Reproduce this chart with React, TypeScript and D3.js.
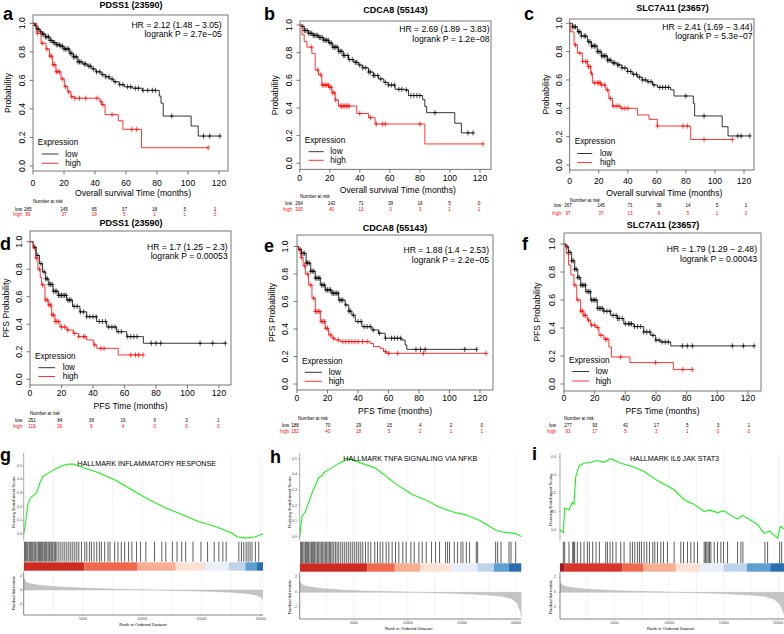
import React from "react";
import * as d3 from "d3";

type Pt = [number, number];

// ---------------- Kaplan-Meier data ----------------
const kmTimeTicks = [0, 20, 40, 60, 80, 100, 120];
const kmProbTicks = [0, 0.2, 0.4, 0.6, 0.8, 1.0];
const groupNames = ["low", "high"];

const aTitle = "PDSS1 (23590)";
const aHR = "HR = 2.12 (1.48 − 3.05)";
const aP = "logrank P = 2.7e−05";
const aLow: Pt[] = [[0,1],[1,0.985],[2.5,0.96],[4.5,0.94],[6,0.925],[8,0.905],[11,0.88],[13,0.865],[15,0.85],[17.4,0.84],[20,0.82],[23.7,0.79],[26,0.765],[29,0.73],[32,0.715],[35,0.7],[38,0.68],[40.6,0.66],[44,0.64],[47,0.625],[49.2,0.61],[52,0.59],[55.6,0.57],[59,0.555],[64.2,0.545],[70.6,0.53],[81.5,0.49],[82.6,0.44],[84,0.35],[102,0.28],[106.6,0.21],[120.6,0.21]];
const aLowCens = [1.5,2.5,3.5,5,6,7,8,9,10,11,12,13,14,15,16,17,18,19,20,21,22,23,24,25,26,27,28,29,30,31,33,34,36,37,39,41,43,45,47,49,51,53,56,58,61,63,66,68,71,74,77,79,89.5,110,114,120.6];
const aHigh: Pt[] = [[0,1],[2.4,0.93],[5.2,0.86],[8.4,0.82],[10.6,0.77],[12.7,0.71],[14.8,0.66],[18,0.61],[20.2,0.556],[22.4,0.52],[24.5,0.486],[26.6,0.475],[43.2,0.45],[44.3,0.43],[46.5,0.36],[55,0.317],[58,0.257],[70,0.128],[113,0.128]];
const aHighCens = [3,6,9,11,12,13,14,15,16,17,19,21,23,25,27,30,34,41.3,44,45,51,63.7,66.9,113];
const aRiskLow = [265, 145, 65, 37, 18, 5, 1];
const aRiskHigh = [99, 37, 19, 5, 1, 1, 0];

const bTitle = "CDCA8 (55143)";
const bHR = "HR = 2.69 (1.89 − 3.83)";
const bP = "logrank P = 1.2e−08";
const bLow: Pt[] = [[0,1],[1,0.99],[3,0.96],[6,0.94],[9,0.925],[12.6,0.91],[16,0.89],[19.2,0.87],[22,0.84],[25.8,0.81],[29,0.78],[32.5,0.75],[36,0.73],[39.1,0.71],[42,0.69],[45.8,0.66],[49,0.635],[52.4,0.61],[56,0.585],[59,0.566],[63.5,0.535],[70,0.53],[72.4,0.49],[81.8,0.46],[83.3,0.41],[84.5,0.366],[103.2,0.29],[107.6,0.22],[115.4,0.22]];
const bLowCens = [2,3,4,5,6,7,8,9,10,11,12,13,14,15,16,17,18,19,20,21,22,23,24,25,26,27,28,29,30,32,33,35,37,38,40,42,44,46,47,49,50,52,54,57,59,61,63,66,68,71,74,76,78,80,90,112,115.4];
const bHigh: Pt[] = [[0,1],[1.5,0.93],[3,0.88],[4.8,0.84],[8.1,0.795],[10.3,0.675],[12.5,0.64],[14.7,0.566],[19.2,0.55],[21.4,0.51],[23.6,0.458],[25.8,0.414],[38,0.36],[45.8,0.33],[50.2,0.284],[83.3,0.14],[122,0.14]];
const bHighCens = [8,12,14,15,16,17,18,19,20,21,22,23,24,27,28,29,30,31,32,33,40,47,51,55,57,80,122];
const bRiskLow = [264, 142, 71, 39, 16, 5, 0];
const bRiskHigh = [100, 40, 13, 3, 3, 1, 1];

const cTitle = "SLC7A11 (23657)";
const cHR = "HR = 2.41 (1.69 − 3.44)";
const cP = "logrank P = 5.3e−07";
const cLow: Pt[] = [[0,1],[2,0.975],[5.3,0.94],[8,0.91],[12.2,0.87],[15,0.84],[19,0.8],[22,0.77],[26,0.74],[29,0.72],[32.8,0.706],[36,0.685],[39.7,0.66],[43,0.64],[46.6,0.62],[50,0.6],[53.5,0.588],[57,0.565],[60.3,0.548],[69.5,0.53],[71.8,0.487],[85.1,0.435],[86,0.346],[105,0.27],[109,0.205],[124,0.205]];
const cLowCens = [2,3,4,6,7,8,10,11,13,14,15,16,17,18,19,20,21,22,23,24,25,26,27,28,30,31,33,34,36,38,40,42,44,46,48,50,52,54,56,58,62,64,66,68,80,92.5,115.7,118,124];
const cHigh: Pt[] = [[0,1],[0.7,0.94],[3,0.847],[5.3,0.79],[8.7,0.73],[12.2,0.694],[14.5,0.647],[15.6,0.58],[21.3,0.565],[24.8,0.53],[27,0.47],[29.4,0.416],[35.1,0.4],[46.6,0.353],[54.6,0.322],[60.3,0.275],[83.3,0.18],[112,0.18]];
const cHighCens = [4,7,9,11,12,13,14,15,17,19,20,21,22,24,26,28,30,32,34,36,38,40,60.3,78,81,92.5,112];
const cRiskLow = [267, 145, 71, 36, 14, 5, 1];
const cRiskHigh = [97, 37, 13, 6, 5, 1, 0];

const dTitle = "PDSS1 (23590)";
const dHR = "HR = 1.7 (1.25 − 2.3)";
const dP = "logrank P = 0.00053";
const dLow: Pt[] = [[0,1],[2,0.96],[4,0.9],[6,0.84],[8,0.78],[10,0.73],[12,0.69],[14.6,0.64],[18,0.61],[23.3,0.576],[27,0.53],[31.7,0.49],[36,0.455],[42.3,0.42],[48.7,0.38],[55,0.346],[61.4,0.31],[69.8,0.31],[72,0.262],[124,0.262]];
const dLowCens = [3,5,7,9,10,11,12,13,14,15,16,17,18,19,20,21,22,23,24,25,26,28,30,32,34,36,38,40,42,44,46,48,50,52,54,56,58,62,64,66,68,77,80,83,108,116,124];
const dHigh: Pt[] = [[0,1],[2,0.95],[3.5,0.88],[5,0.8],[6.5,0.74],[7.4,0.686],[9.5,0.576],[11.6,0.54],[13.8,0.467],[15.9,0.42],[19,0.38],[23.3,0.358],[27.5,0.334],[30.7,0.31],[36,0.286],[40.2,0.25],[42.4,0.225],[56,0.177],[71.8,0.177]];
const dHighCens = [4,6,8,10,11,12,13,14,15,16,17,18,20,22,24,28,31,34,35,41,45,47,64,67,69,71.8];
const dRiskLow = [251, 84, 38, 16, 6, 3, 1];
const dRiskHigh = [119, 26, 9, 4, 0, 0, 0];

const eTitle = "CDCA8 (55143)";
const eHR = "HR = 1.88 (1.4 − 2.53)";
const eP = "logrank P = 2.2e−05";
const eLow: Pt[] = [[0,1],[1,0.98],[3,0.95],[6,0.88],[9,0.82],[12,0.77],[15.3,0.72],[18.5,0.684],[22.9,0.66],[27.3,0.61],[31.6,0.575],[34,0.53],[36,0.5],[38.2,0.454],[42.5,0.417],[49.1,0.393],[53.5,0.369],[57.8,0.333],[68.7,0.32],[70.9,0.284],[72,0.252],[117.8,0.252]];
const eLowCens = [2,3,4,5,6,7,8,9,10,11,12,13,14,15,16,17,18,19,20,21,22,23,24,25,26,27,28,29,30,32,34,35,37,40,42,44,46,48,50,54,58,62,64,66,68,78,81,84,110,117.8];
const eHigh: Pt[] = [[0,1],[1,0.97],[2.5,0.92],[4,0.86],[5.5,0.8],[7.6,0.72],[9.8,0.624],[12,0.527],[15.3,0.454],[18.5,0.405],[20.7,0.357],[22.9,0.333],[25,0.32],[28.4,0.308],[48,0.295],[50.2,0.272],[54.5,0.26],[56.7,0.235],[58.9,0.223],[124,0.223]];
const eHighCens = [3,5,7,9,11,12,13,14,15,16,17,18,19,20,22,24,27,30,32,34,36,38,40,43,46,58,60,66,82.9,124];
const eRiskLow = [188, 70, 29, 15, 4, 2, 0];
const eRiskHigh = [182, 40, 18, 5, 2, 1, 1];

const fTitle = "SLC7A11 (23657)";
const fHR = "HR = 1.79 (1.29 − 2.48)";
const fP = "logrank P = 0.00043";
const fLow: Pt[] = [[0,1],[1,0.98],[3,0.94],[5,0.88],[7,0.82],[9,0.76],[10.9,0.706],[14.1,0.66],[17.4,0.6],[21.7,0.54],[26,0.52],[30.4,0.49],[34.8,0.468],[39,0.43],[45.6,0.41],[52,0.372],[56.5,0.348],[59.8,0.313],[63,0.3],[69.6,0.272],[124,0.272]];
const fLowCens = [2,3,4,5,6,7,8,9,10,11,12,13,14,15,16,17,18,19,20,21,22,23,24,25,26,28,30,32,34,35,36,38,40,42,43,44,46,48,50,52,54,56,58,60,62,64,66,68,77.2,80.4,83.7,109.8,117,124];
const fHigh: Pt[] = [[0,1],[1.5,0.93],[3,0.85],[4.5,0.78],[6.5,0.706],[8.3,0.6],[10.9,0.52],[13,0.49],[15.2,0.456],[17.4,0.42],[20.7,0.403],[22.8,0.348],[26,0.32],[29.3,0.265],[30.9,0.193],[43,0.153],[71.3,0.103],[83.7,0.103]];
const fHighCens = [7,9,11,12,13,14,16,18,20,22,24,27,28,37,59.8,77.5,83.7];
const fRiskLow = [277, 93, 42, 17, 5, 3, 1];
const fRiskHigh = [93, 17, 5, 3, 1, 0, 0];

// ---------------- GSEA data ----------------
const rankTicks = [5000, 10000, 15000, 20000];
const metricTicks = [2, 0, -2];

const gTitle = "HALLMARK INFLAMMATORY RESPONSE";
const gES: Pt[] = [[0,0],[100,0.05],[250,0.15],[360,0.22],[500,0.25],[650,0.27],[1070,0.3],[1200,0.33],[1350,0.37],[1620,0.42],[2180,0.45],[2800,0.48],[3300,0.5],[3800,0.51],[4200,0.51],[5000,0.485],[6390,0.445],[7790,0.39],[9190,0.32],[10590,0.25],[11990,0.19],[13390,0.14],[14790,0.09],[16190,0.055],[17590,0.005],[18010,-0.02],[18720,-0.03],[19560,-0.02],[20000,-0.005],[20300,0.005]];
const gHits = [56,140,224,336,448,532,616,700,784,896,1008,1120,1233,1317,1401,1485,1597,1709,1793,1877,1961,2073,2185,2297,2381,2465,2577,2689,2801,2969,3137,3305,3473,3641,3809,3977,4145,4313,4481,4649,4874,5154,5322,5546,5714,5938,6162,6386,6554,6834,7115,7283,7675,7955,8235,8516,8852,9132,9524,9860,10308,11037,11653,11989,12549,12941,13333,13669,14285,14958,15518,16078,16470,16807,17087,18151,18375,18571,18767,18935,19103,19271,19551,19831];
const gBands = [0, 5126, 9607, 12828, 15350, 17310, 18710, 19690, 20500];
const gMetric: Pt[] = [[0,1.7],[150,1.2],[400,0.95],[800,0.8],[1500,0.65],[2500,0.5],[4000,0.35],[6000,0.22],[8000,0.12],[10000,0.04],[12000,-0.04],[14000,-0.12],[16000,-0.22],[17500,-0.32],[18800,-0.48],[19600,-0.7],[20000,-1.0],[20300,-1.6],[20500,-2.6]];

const hTitle = "HALLMARK TNFA SIGNALING VIA NFKB";
const hES: Pt[] = [[0,0],[213,0.13],[519,0.16],[833,0.22],[1139,0.28],[1445,0.33],[1759,0.38],[2065,0.39],[2222,0.41],[2685,0.43],[3611,0.47],[4537,0.5],[5769,0.47],[7000,0.44],[8853,0.34],[10399,0.27],[11630,0.236],[12871,0.19],[14103,0.16],[15335,0.14],[16575,0.107],[18113,0.043],[18733,0.03],[19965,0.02],[20520,0]];
const hHits = [90,183,275,399,522,615,738,831,954,1078,1170,1294,1386,1510,1633,1757,1880,2004,2127,2251,2374,2498,2621,2745,2868,2992,3146,3300,3455,3609,3794,3980,4165,4350,4535,4720,4906,5091,5276,5461,5647,5832,6079,6326,6572,6943,7190,7437,7684,7993,8240,8548,8857,9166,9536,9845,10277,10586,11018,11327,11697,12191,12561,12932,13488,13673,13858,14290,14599,14908,15093,15402,15710,16328,16451,18118,18303,18612,19353,19538,19970];
const hBands = [0, 6233, 8795, 11172, 13951, 16420, 17964, 19353, 20520];
const hMetric: Pt[] = [[0,1.5],[150,1.1],[500,0.85],[1000,0.7],[2000,0.5],[4000,0.3],[6000,0.18],[8000,0.1],[10000,0.03],[12000,-0.05],[14000,-0.13],[16000,-0.25],[17500,-0.35],[18800,-0.55],[19600,-0.85],[20100,-1.4],[20400,-2.5],[20520,-3.3]];

const iTitle = "HALLMARK IL6 JAK STAT3";
const iES: Pt[] = [[0,0],[303,-0.015],[431,0.12],[826,0.11],[1128,0.15],[1284,0.14],[1440,0.29],[1743,0.35],[2202,0.365],[2816,0.37],[3422,0.38],[4037,0.37],[4651,0.39],[5569,0.365],[6486,0.35],[7706,0.32],[8926,0.27],[10459,0.22],[11376,0.165],[12293,0.14],[13211,0.1],[13670,0.11],[14431,0.095],[15045,0.105],[15661,0.08],[16266,0.06],[16725,0.08],[18101,0.03],[18716,-0.02],[19174,-0.005],[19936,-0.045],[20183,0.02],[20550,0.005]];
const iHits = [305,428,825,1162,1253,1345,1590,1896,2201,2507,2691,2996,3302,3608,4189,4342,4587,4831,5137,5565,5871,6421,6636,6850,7094,7278,7461,7706,7950,8195,8501,8684,8929,9235,9479,9846,10458,11069,11314,11681,11987,12293,12599,13210,13333,13455,13577,13699,13822,14127,14433,14739,14984,15351,16268,16574,16757,18775,19020,20121,20305];
const iBands = [0, 428, 5718, 7644, 10610, 12843, 14984, 17124, 19265, 20600];
const iMetric: Pt[] = [[0,1.3],[150,1.0],[500,0.8],[1000,0.65],[2000,0.48],[4000,0.3],[6000,0.18],[8000,0.1],[10000,0.03],[12000,-0.05],[14000,-0.13],[16000,-0.25],[17500,-0.36],[18800,-0.56],[19600,-0.9],[20100,-1.5],[20400,-2.4],[20600,-3.3]];

const bandColors8 = ["#cd2a22", "#ef6a4c", "#f7ae92", "#fbe2d5", "#e9eef8", "#bcd5ea", "#5f9ed1", "#2a6db0"];
const bandColors9 = ["#a0141c", "#d8342a", "#ef6a4c", "#f7ae92", "#fbe2d5", "#e9eef8", "#bcd5ea", "#5f9ed1", "#2a6db0"];

// ---------------- layout ----------------
const FONT = "'Liberation Sans', Arial, Helvetica, sans-serif";

const kmPanels = [
  { key: "a", title: aTitle, hr: aHR, p: aP, low: aLow, lowC: aLowCens, high: aHigh, highC: aHighCens, rl: aRiskLow, rh: aRiskHigh, yLab: "Probability", xLab: "Overall survival Time (months)",
    L: { letter: [3, 20], titleXY: [131, 8], box: [33, 15, 228, 171], x0: 33, x120: 219, y0: 166, y1: 23.3, hrR: 221.7, hrY: [25, 34], yTickX: 22, yTitleX: 8.3, xTickY: 182.7, xTitleY: 193.3, xTitleX: 133,
      leg: { x: 37.7, y: [142.7, 154, 163.3], l1: 41.7, l2: 58.3, tx: 65.3 }, risk: { tx: 33, ty: 201.7, x0: 33.8, step: 30.2, first: -6, yl: 209, yh: 214.3, lr: 22 } } },
  { key: "b", title: bTitle, hr: bHR, p: bP, low: bLow, lowC: bLowCens, high: bHigh, highC: bHighCens, rl: bRiskLow, rh: bRiskHigh, yLab: "Probability", xLab: "Overall survival Time (months)",
    L: { letter: [264, 20], titleXY: [395.5, 13], box: [300, 21, 491, 169.3], x0: 299.7, x120: 480, y0: 163.3, y1: 25, hrR: 489.5, hrY: [29.3, 39], yTickX: 288.7, yTitleX: 275.3, xTickY: 177.5, xTitleY: 190, xTitleX: 397.8,
      leg: { x: 304.7, y: [140.7, 151.7, 160.3], l1: 308.7, l2: 323.7, tx: 330.3 }, risk: { tx: 300, ty: 196.7, x0: 302, step: 29.5, first: -3, yl: 203.3, yh: 209.3, lr: 292 } } },
  { key: "c", title: cTitle, hr: cHR, p: cP, low: cLow, lowC: cLowCens, high: cHigh, highC: cHighCens, rl: cRiskLow, rh: cRiskHigh, yLab: "Probability", xLab: "Overall survival Time (months)",
    L: { letter: [524, 20], titleXY: [672.5, 10.5], box: [569.7, 19, 754, 170], x0: 569.7, x120: 744, y0: 165, y1: 23.3, hrR: 752.5, hrY: [26.7, 36], yTickX: 559, yTitleX: 545.7, xTickY: 180.7, xTitleY: 192.7, xTitleX: 664.3,
      leg: { x: 574.7, y: [141.7, 153.5, 162.5], l1: 577.3, l2: 592.3, tx: 600 }, risk: { tx: 570, ty: 200, x0: 572, step: 29, first: -4, yl: 205.7, yh: 213.3, lr: 561 } } },
  { key: "d", title: dTitle, hr: dHR, p: dP, low: dLow, lowC: dLowCens, high: dHigh, highC: dHighCens, rl: dRiskLow, rh: dRiskHigh, yLab: "PFS Probability", xLab: "PFS Time (months)",
    L: { letter: [0, 250], titleXY: [131, 226], box: [30, 231, 231, 385], x0: 30, x120: 219, y0: 379.3, y1: 241.7, hrR: 227.7, hrY: [246.7, 255.7], yTickX: 19.3, yTitleX: 6, xTickY: 393.3, xTitleY: 406, xTitleX: 130.5,
      leg: { x: 35, y: [356.7, 367.7, 376.5], l1: 38.3, l2: 55, tx: 62.7 }, risk: { tx: 30, ty: 413.3, x0: 28, step: 31.7, first: 4, yl: 420, yh: 426, lr: 22 } } },
  { key: "e", title: eTitle, hr: eHR, p: eP, low: eLow, lowC: eLowCens, high: eHigh, highC: eHighCens, rl: eRiskLow, rh: eRiskHigh, yLab: "PFS Probability", xLab: "PFS Time (months)",
    L: { letter: [264, 252], titleXY: [395, 231], box: [297, 235, 493, 390], x0: 297, x120: 480, y0: 384, y1: 246.5, hrR: 489, hrY: [250, 260], yTickX: 285.3, yTitleX: 272, xTickY: 398.3, xTitleY: 411, xTitleX: 395,
      leg: { x: 302, y: [361, 372.3, 381.3], l1: 304.7, l2: 322, tx: 328.7 }, risk: { tx: 298, ty: 418.3, x0: 297, step: 30.8, first: -2, yl: 425, yh: 431, lr: 289 } } },
  { key: "f", title: fTitle, hr: fHR, p: fP, low: fLow, lowC: fLowCens, high: fHigh, highC: fHighCens, rl: fRiskLow, rh: fRiskHigh, yLab: "PFS Probability", xLab: "PFS Time (months)",
    L: { letter: [522, 250], titleXY: [663, 228], box: [564, 233, 761, 391], x0: 564, x120: 748, y0: 384, y1: 244, hrR: 757, hrY: [249, 259], yTickX: 552.3, yTitleX: 537.3, xTickY: 398.3, xTitleY: 411, xTitleX: 662.5,
      leg: { x: 569, y: [360, 371.5, 381], l1: 572.3, l2: 589, tx: 595.7 }, risk: { tx: 564, ty: 418.3, x0: 564, step: 30.8, first: 4, yl: 425, yh: 431, lr: 556 } } },
];

const gseaPanels = [
  { key: "g", title: gTitle, es: gES, hits: gHits, bands: gBands, colors: bandColors8, metric: gMetric, esTicks: [0, 0.1, 0.2, 0.3, 0.4, 0.5],
    L: { letter: [0, 461], titleXY: [146.7, 463.3], x0: 23.7, x20k: 260.7, right: 263, esTop: 453, es0: 534, esStep: 13.7, hitTop: 541.7, hitBot: 561.7, cbTop: 562.3, cbBot: 570.7, rkTop: 571.7, rkBot: 615, m0: 590, mUnit: 7.1, tickR: 22, yTitleX: 13, esTitleY: 502, rkTitleY: 593, xTickY: 619, xTitleY: 624.5, xTitleX: 143 } },
  { key: "h", title: hTitle, es: hES, hits: hHits, bands: hBands, colors: bandColors8, metric: hMetric, esTicks: [0, 0.1, 0.2, 0.3, 0.4, 0.5],
    L: { letter: [270, 463], titleXY: [410.3, 458.3], x0: 299.7, x20k: 516, right: 521.5, esTop: 453, es0: 536.7, esStep: 15.6, hitTop: 541.7, hitBot: 563.3, cbTop: 563.3, cbBot: 571.7, rkTop: 572.5, rkBot: 619, m0: 592.3, mUnit: 7.5, tickR: 297, yTitleX: 289.3, esTitleY: 502, rkTitleY: 597, xTickY: 623.3, xTitleY: 628.5, xTitleX: 408.7 } },
  { key: "i", title: iTitle, es: iES, hits: iHits, bands: iBands, colors: bandColors9, metric: iMetric, esTicks: [0, 0.1, 0.2, 0.3, 0.4],
    L: { letter: [532, 460], titleXY: [674.5, 458.3], x0: 560, x20k: 778.3, right: 784, esTop: 453, es0: 530, esStep: 18.3, hitTop: 541.7, hitBot: 563.3, cbTop: 563.3, cbBot: 571.7, rkTop: 572.5, rkBot: 619, m0: 592.3, mUnit: 7.5, tickR: 556, yTitleX: 550, esTitleY: 500, rkTitleY: 597, xTickY: 623.3, xTitleY: 628.5, xTitleX: 670.7 } },
];

function survAt(steps: Pt[], t: number) {
  let s = 1;
  for (const [tt, ss] of steps) {
    if (tt <= t + 1e-9) s = ss;
    else break;
  }
  return s;
}

function KMPanel({ P }: any) {
  const L = P.L;
  const x = d3.scaleLinear().domain([0, 120]).range([L.x0, L.x120]);
  const y = d3.scaleLinear().domain([0, 1]).range([L.y0, L.y1]);
  const line = d3.line<Pt>().x((p) => x(p[0])).y((p) => y(p[1])).curve(d3.curveStepAfter);
  const [bl, bt, br, bb] = L.box;
  const series = [
    { steps: P.low, cens: P.lowC, color: "#000000" },
    { steps: P.high, cens: P.highC, color: "#ff0000" },
  ];
  const riskX = (i: number) => L.risk.x0 + i * L.risk.step + (i === 0 ? L.risk.first : 0);
  const fs = 8.6;
  const lfs = 8.2;
  const rfs = 4.6;
  return (
    <g fontFamily={FONT}>
      <text x={L.letter[0]} y={L.letter[1]} fontSize={18} fontWeight="bold">{P.key}</text>
      <text x={L.titleXY[0]} y={L.titleXY[1]} fontSize={9} fontWeight="bold" textAnchor="middle">{P.title}</text>
      <clipPath id={"clip-" + P.key}>
        <rect x={bl} y={bt} width={br - bl} height={bb - bt} />
      </clipPath>
      <g clipPath={`url(#clip-${P.key})`}>
        {series.map((s, si) => (
          <g key={si}>
            <path d={line(s.steps) || ""} fill="none" stroke={s.color} strokeWidth={0.8} />
            {s.cens.map((t: number, ci: number) => {
              const cx = x(t);
              const cy = y(survAt(s.steps, t));
              return <path key={ci} d={`M${cx - 2},${cy}H${cx + 2}M${cx},${cy - 2.6}V${cy + 2.6}`} stroke={s.color} strokeWidth={0.7} fill="none" />;
            })}
          </g>
        ))}
      </g>
      <rect x={bl} y={bt} width={br - bl} height={bb - bt} fill="none" stroke="#555" strokeWidth={0.8} />
      {kmTimeTicks.map((t) => (
        <g key={"xt" + t}>
          <line x1={x(t)} x2={x(t)} y1={bb} y2={bb + 3.5} stroke="#555" strokeWidth={0.8} />
          <text x={x(t)} y={L.xTickY} fontSize={fs} textAnchor="middle" dominantBaseline="central">{t}</text>
        </g>
      ))}
      {kmProbTicks.map((p) => (
        <g key={"yt" + p}>
          <line x1={bl - 3.5} x2={bl} y1={y(p)} y2={y(p)} stroke="#555" strokeWidth={0.8} />
          <text transform={`translate(${L.yTickX},${y(p)}) rotate(-90)`} fontSize={fs} textAnchor="middle" dominantBaseline="central">{p.toFixed(1)}</text>
        </g>
      ))}
      <text transform={`translate(${L.yTitleX},${(bt + bb) / 2}) rotate(-90)`} fontSize={fs} textAnchor="middle" dominantBaseline="central">{P.yLab}</text>
      <text x={L.xTitleX} y={L.xTitleY} fontSize={fs} textAnchor="middle" dominantBaseline="central">{P.xLab}</text>
      <text x={L.hrR} y={L.hrY[0]} fontSize={fs} textAnchor="end" dominantBaseline="central">{P.hr}</text>
      <text x={L.hrR} y={L.hrY[1]} fontSize={fs} textAnchor="end" dominantBaseline="central">{P.p}</text>
      <text x={L.leg.x} y={L.leg.y[0]} fontSize={lfs} dominantBaseline="central">Expression</text>
      {groupNames.map((g, gi) => (
        <g key={g}>
          <line x1={L.leg.l1} x2={L.leg.l2} y1={L.leg.y[gi + 1]} y2={L.leg.y[gi + 1]} stroke={gi === 0 ? "#000" : "#ff0000"} strokeWidth={0.8} />
          <text x={L.leg.tx} y={L.leg.y[gi + 1]} fontSize={lfs} dominantBaseline="central">{g}</text>
        </g>
      ))}
      <text x={L.risk.tx} y={L.risk.ty} fontSize={rfs} dominantBaseline="central">Number at risk</text>
      <text x={L.risk.lr} y={L.risk.yl} fontSize={rfs} textAnchor="end" dominantBaseline="central">low</text>
      <text x={L.risk.lr} y={L.risk.yh} fontSize={rfs} textAnchor="end" dominantBaseline="central" fill="#ff0000">high</text>
      {P.rl.map((v: number, i: number) => (
        <text key={"rl" + i} x={riskX(i)} y={L.risk.yl} fontSize={rfs} textAnchor="middle" dominantBaseline="central">{v}</text>
      ))}
      {P.rh.map((v: number, i: number) => (
        <text key={"rh" + i} x={riskX(i)} y={L.risk.yh} fontSize={rfs} textAnchor="middle" dominantBaseline="central" fill="#ff0000">{v}</text>
      ))}
    </g>
  );
}

function GseaPanel({ P }: any) {
  const L = P.L;
  const x = d3.scaleLinear().domain([0, 20000]).range([L.x0, L.x20k]);
  const yE = d3.scaleLinear().domain([0, 0.1]).range([L.es0, L.es0 - L.esStep]);
  const yM = d3.scaleLinear().domain([0, 2]).range([L.m0, L.m0 - 2 * L.mUnit]);
  const esLine = d3.line<Pt>().x((p) => x(p[0])).y((p) => yE(p[1]));
  const area = d3.area<Pt>().x((p) => x(p[0])).y0(yM(0)).y1((p) => yM(p[1]));
  const grid = d3.range(2500, 20001, 2500);
  const fmt = d3.format(".1f");
  const esBot = L.hitTop;
  return (
    <g fontFamily={FONT}>
      <clipPath id={"gclip-" + P.key}>
        <rect x={L.x0} y={440} width={L.right - L.x0} height={190} />
      </clipPath>
      <g clipPath={`url(#gclip-${P.key})`}>
        {grid.map((r: number) => (
          <g key={"g" + r}>
            <line x1={x(r)} x2={x(r)} y1={L.esTop} y2={esBot} stroke="#ebebeb" strokeWidth={0.6} />
            <line x1={x(r)} x2={x(r)} y1={L.rkTop} y2={L.rkBot} stroke="#ebebeb" strokeWidth={0.6} />
          </g>
        ))}
        {P.hits.map((r: number, i: number) => (
          <line key={"h" + i} x1={x(r)} x2={x(r)} y1={L.hitTop} y2={L.hitBot} stroke="#000" strokeOpacity={0.8} strokeWidth={0.8} />
        ))}
        {P.colors.map((c: string, i: number) => (
          <rect key={"b" + i} x={x(P.bands[i])} y={L.cbTop} width={x(P.bands[i + 1]) - x(P.bands[i])} height={L.cbBot - L.cbTop} fill={c} />
        ))}
        <path d={area(P.metric) || ""} fill="#c4c4c4" stroke="#b0b0b0" strokeWidth={0.4} />
        <path d={esLine(P.es) || ""} fill="none" stroke="#1df01d" strokeWidth={1.1} />
      </g>
      <line x1={L.x0} x2={L.x0} y1={L.esTop} y2={esBot - 1} stroke="#555" strokeWidth={0.5} />
      <line x1={L.x0} x2={L.x0} y1={L.rkTop} y2={L.rkBot} stroke="#333" strokeWidth={0.6} />
      <line x1={L.x0} x2={L.right} y1={L.rkBot} y2={L.rkBot} stroke="#333" strokeWidth={0.6} />
      {P.esTicks.map((v: number) => (
        <g key={"e" + v}>
          <line x1={L.x0 - 1.2} x2={L.x0} y1={yE(v)} y2={yE(v)} stroke="#555" strokeWidth={0.4} />
          <text x={L.tickR} y={yE(v)} fontSize={3.6} fill="#444" textAnchor="end" dominantBaseline="central">{fmt(v)}</text>
        </g>
      ))}
      {metricTicks.map((v: number) => (
        <g key={"m" + v}>
          <line x1={L.x0 - 1.2} x2={L.x0} y1={yM(v)} y2={yM(v)} stroke="#555" strokeWidth={0.4} />
          <text x={L.tickR} y={yM(v)} fontSize={3.6} fill="#444" textAnchor="end" dominantBaseline="central">{v}</text>
        </g>
      ))}
      {rankTicks.map((r: number) => (
        <g key={"r" + r}>
          <line x1={x(r)} x2={x(r)} y1={L.rkBot} y2={L.rkBot + 1.2} stroke="#555" strokeWidth={0.4} />
          <text x={x(r)} y={L.xTickY} fontSize={3.6} fill="#444" textAnchor="middle" dominantBaseline="central">{r}</text>
        </g>
      ))}
      <text transform={`translate(${L.yTitleX},${L.esTitleY}) rotate(-90)`} fontSize={4.3} textAnchor="middle" dominantBaseline="central">Running Enrichment Score</text>
      <text transform={`translate(${L.yTitleX},${L.rkTitleY}) rotate(-90)`} fontSize={4.3} textAnchor="middle" dominantBaseline="central">Ranked list metric</text>
      <text x={L.xTitleX} y={L.xTitleY} fontSize={4.3} textAnchor="middle" dominantBaseline="central">Rank in Ordered Dataset</text>
      <text x={L.titleXY[0]} y={L.titleXY[1]} fontSize={7.2} textAnchor="middle" dominantBaseline="central">{P.title}</text>
      <text x={L.letter[0]} y={L.letter[1]} fontSize={18} fontWeight="bold">{P.key}</text>
    </g>
  );
}

export default function App() {
  return (
    <svg width={784} height={634} viewBox="0 0 784 634" style={{ position: "absolute", left: 0, top: 0, background: "#fff" }}>
      <rect x={0} y={0} width={784} height={634} fill="#fff" />
      {kmPanels.map((P) => (
        <KMPanel key={P.key} P={P} />
      ))}
      {gseaPanels.map((P) => (
        <GseaPanel key={P.key} P={P} />
      ))}
    </svg>
  );
}
